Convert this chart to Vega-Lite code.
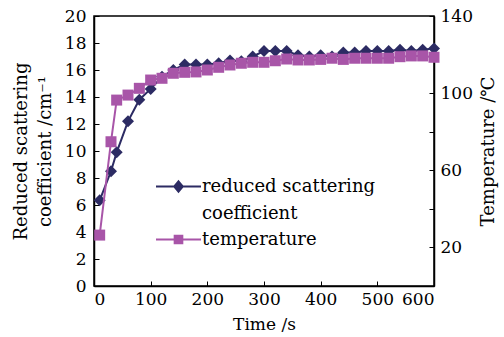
{
  "$schema": "https://vega.github.io/schema/vega-lite/v6.json",
  "width": 340,
  "height": 270,
  "autosize": {"type": "none"},
  "padding": {"left": 94, "top": 16, "right": 70, "bottom": 51},
  "background": "white",
  "config": {
    "font": "DejaVu Serif",
    "view": {"stroke": "black", "strokeWidth": 1.5},
    "axis": {
      "labelFont": "DejaVu Serif", "titleFont": "DejaVu Serif",
      "labelFontSize": 17, "titleFontSize": 18, "titleFontWeight": "normal",
      "labelColor": "black", "titleColor": "black", "tickColor": "black",
      "domainColor": "black", "grid": false, "tickSize": -5, "domainWidth": 1.5, "tickWidth": 1
    }
  },
  "data": {"values": [
    {"t": 10, "s": 6.35, "T": 26.4},
    {"t": 30, "s": 8.5, "T": 74.8},
    {"t": 40, "s": 9.9, "T": 96.4},
    {"t": 60, "s": 12.2, "T": 99.0},
    {"t": 80, "s": 13.8, "T": 102.5},
    {"t": 100, "s": 14.6, "T": 106.8},
    {"t": 120, "s": 15.5, "T": 107.7},
    {"t": 140, "s": 16.0, "T": 110.3},
    {"t": 160, "s": 16.4, "T": 110.8},
    {"t": 180, "s": 16.4, "T": 111.0},
    {"t": 200, "s": 16.4, "T": 112.0},
    {"t": 220, "s": 16.5, "T": 113.4},
    {"t": 240, "s": 16.7, "T": 114.6},
    {"t": 260, "s": 16.65, "T": 115.5},
    {"t": 280, "s": 17.0, "T": 116.0},
    {"t": 300, "s": 17.4, "T": 116.0},
    {"t": 320, "s": 17.4, "T": 116.8},
    {"t": 340, "s": 17.4, "T": 117.7},
    {"t": 360, "s": 17.1, "T": 117.2},
    {"t": 380, "s": 17.0, "T": 117.2},
    {"t": 400, "s": 17.1, "T": 117.5},
    {"t": 420, "s": 17.0, "T": 118.1},
    {"t": 440, "s": 17.3, "T": 117.5},
    {"t": 460, "s": 17.3, "T": 118.1},
    {"t": 480, "s": 17.4, "T": 118.1},
    {"t": 500, "s": 17.4, "T": 118.1},
    {"t": 520, "s": 17.4, "T": 118.1},
    {"t": 540, "s": 17.5, "T": 118.9},
    {"t": 560, "s": 17.4, "T": 119.3},
    {"t": 580, "s": 17.5, "T": 119.3},
    {"t": 600, "s": 17.6, "T": 118.6}
  ]},
  "encoding": {
    "x": {
      "field": "t", "type": "quantitative",
      "scale": {"domain": [0, 600]},
      "axis": {"values": [0, 100, 200, 300, 400, 500, 600], "title": "Time /s", "titleFontSize": 17, "labelPadding": 10, "titlePadding": 9}
    }
  },
  "layer": [
    {
      "mark": {"type": "line", "strokeWidth": 2, "point": {"shape": "diamond", "size": 144, "filled": true, "opacity": 1}},
      "encoding": {
        "y": {
          "field": "s", "type": "quantitative",
          "scale": {"domain": [0, 20]},
          "axis": {
            "values": [0, 2, 4, 6, 8, 10, 12, 14, 16, 18, 20],
            "title": ["Reduced scattering", "coefficient /cm⁻¹"],
            "titleLineHeight": 24, "labelPadding": 13, "titlePadding": 10
          }
        },
        "color": {
          "datum": "scattering", "type": "nominal",
          "scale": {"domain": ["scattering", "temperature"], "range": ["#2c2b63", "#a855a8"]},
          "legend": {
            "title": null, "orient": "none", "legendX": 61, "legendY": 147,
            "padding": 0, "labelFont": "DejaVu Serif", "labelFontSize": 18, "labelColor": "black",
            "labelLimit": 0, "symbolSize": 2025, "symbolStrokeWidth": 2, "labelOffset": 0, "rowPadding": -8,
            "labelExpr": "datum.value == 'scattering' ? ['reduced scattering', 'coefficient'] : 'temperature'",
            "encode": {
              "symbols": {"update": {
                "shape": {"signal": "datum.value == 'scattering' ? 'M-1,0H1M0,-0.23L0.19,0L0,0.23L-0.19,0Z' : 'M-1,-0.31H1M-0.17,-0.48H0.17V-0.14H-0.17Z'"},
                "fill": {"scale": "color", "field": "value"},
                "stroke": {"scale": "color", "field": "value"},
                "strokeWidth": {"value": 2},
                "opacity": {"value": 1}
              }},
              "labels": {"update": {
                "lineHeight": {"value": 27},
                "dy": {"signal": "datum.value == 'temperature' ? -7 : 0"}
              }}
            }
          }
        }
      }
    },
    {
      "mark": {"type": "line", "strokeWidth": 2, "point": {"shape": "square", "size": 121, "filled": true, "opacity": 1}},
      "encoding": {
        "y": {
          "field": "T", "type": "quantitative",
          "scale": {"domain": [0, 140]},
          "axis": {
            "orient": "right",
            "values": [20, 40, 60, 80, 100, 120, 140],
            "labelExpr": "datum.value % 40 == 20 ? datum.label : ''",
            "title": "Temperature /℃", "titleAngle": 270, "labelPadding": 11, "titlePadding": 25
          }
        },
        "color": {"datum": "temperature", "type": "nominal"}
      }
    }
  ],
  "resolve": {"scale": {"y": "independent"}}
}
